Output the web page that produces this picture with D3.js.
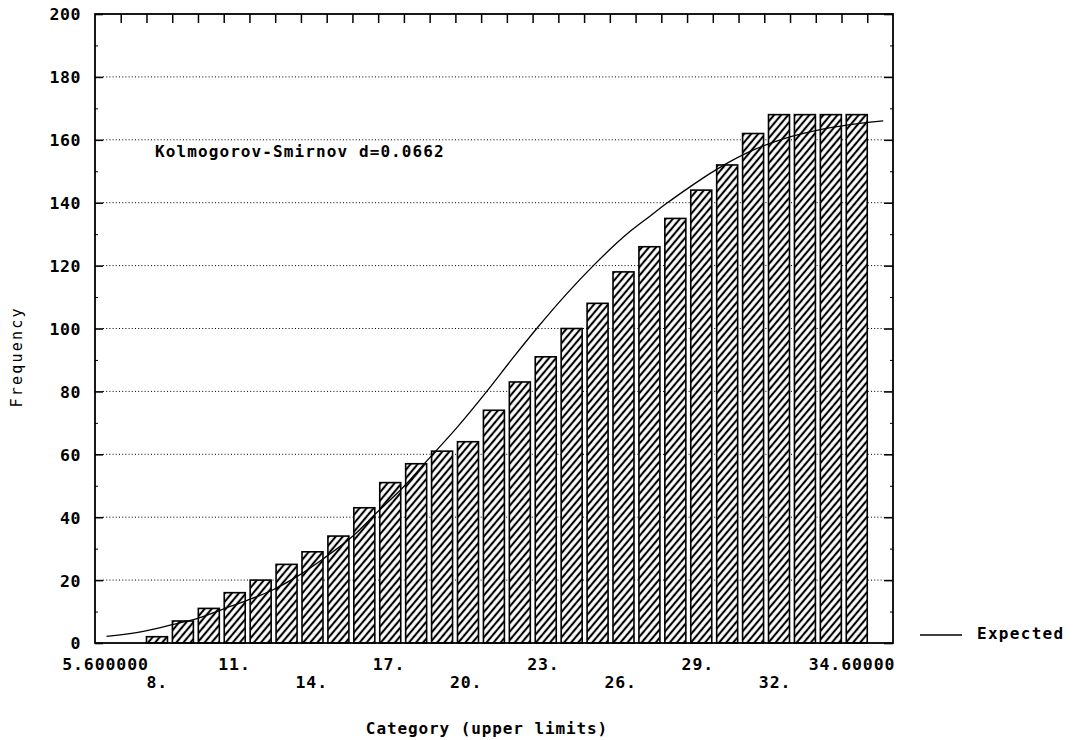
<!DOCTYPE html>
<html><head><meta charset="utf-8">
<script src="https://cdn.jsdelivr.net/npm/d3@7"></script>
<style>
html,body{margin:0;padding:0;background:#fff;}
svg text{font-family:"DejaVu Sans Mono","Liberation Mono",monospace;fill:#000;}
</style></head><body>
<svg id="chart" width="1074" height="740"></svg>
<script>
// ---- data ----
const upperLimits = [8.6,9.6,10.6,11.6,12.6,13.6,14.6,15.6,16.6,17.6,18.6,19.6,20.6,21.6,22.6,23.6,24.6,25.6,26.6,27.6,28.6,29.6,30.6,31.6,32.6,33.6,34.6,35.6];
const frequencies = [2,7,11,16,20,25,29,34,43,51,57,61,64,74,83,91,100,108,118,126,135,144,152,162,168,168,168,168];
const expectedX = [6.05,7.48,8.64,9.68,10.58,11.49,12.46,13.44,14.47,15.63,16.54,17.58,18.49,19.65,20.82,21.85,22.76,23.93,24.96,26.39,27.17,27.81,28.46,29.75,31.05,32.34,33.64,34.93,36.22];
const expectedY = [2.1,3.7,5.9,8.1,10.8,13.5,16.7,21.1,26.8,34.1,41.4,49.6,57.9,68.4,80.0,90.8,100.0,111.1,120.0,130.9,135.8,139.8,143.6,150.6,156.3,160.3,163.0,164.8,166.0];
const classLimits = [6.6,7.6,8.6,9.6,10.6,11.6,12.6,13.6,14.6,15.6,16.6,17.6,18.6,19.6,20.6,21.6,22.6,23.6,24.6,25.6,26.6,27.6,28.6,29.6,30.6,31.6,32.6,33.6,34.6,35.6];
const xTickValues = [5.6,8,11,14,17,20,23,26,29,32,34.6];
const xTickLabels = ["5.600000","8.","11.","14.","17.","20.","23.","26.","29.","32.","34.60000"];
const yTickValues = [0,20,40,60,80,100,120,140,160,180,200];
const yMinorTicks = [10,30,50,70,90,110,130,150,170,190];
const ksText = "Kolmogorov-Smirnov d=0.0662";
const xTitle = "Category (upper limits)";
const yTitle = "Frequency";
const legendLabel = "Expected";

// ---- layout ----
const L = 95, R = 893, T = 14, B = 643;
const svg = d3.select("#chart");
const x = d3.scaleLinear().domain([5.6, 36.6]).range([L, R]);
const y = d3.scaleLinear().domain([0, 200]).range([B, T]);
const band = d3.scaleBand().domain(upperLimits).range([x(7.6), x(35.6)]).paddingInner(0.19).paddingOuter(0);

const defs = svg.append("defs");
const pat = defs.append("pattern").attr("id","hatch").attr("patternUnits","userSpaceOnUse")
  .attr("width",5.4).attr("height",5.4).attr("patternTransform","rotate(40)");
pat.append("rect").attr("width",5.4).attr("height",5.4).attr("fill","#fff");
pat.append("line").attr("x1",2.7).attr("x2",2.7).attr("y1",-1).attr("y2",6.4).attr("stroke","#000").attr("stroke-width",2.1);

// gridlines
svg.append("g").selectAll("line").data(yTickValues.filter(d=>d>0 && d<200)).join("line")
  .attr("x1", L+8).attr("x2", R-9).attr("y1", d=>y(d)).attr("y2", d=>y(d))
  .attr("stroke","#000").attr("stroke-width",1).attr("stroke-dasharray","1,2.2");

// bars
svg.append("g").selectAll("rect").data(upperLimits).join("rect")
  .attr("x", d=>band(d)).attr("width", band.bandwidth())
  .attr("y", (d,i)=>y(frequencies[i])).attr("height", (d,i)=>y(0)-y(frequencies[i]))
  .attr("fill","url(#hatch)").attr("stroke","#000").attr("stroke-width",1.6);

// expected curve
const pts = expectedX.map((v,i)=>[v, expectedY[i]]);
svg.append("path").datum(pts)
  .attr("d", d3.line().x(d=>x(d[0])).y(d=>y(d[1])).curve(d3.curveMonotoneX))
  .attr("fill","none").attr("stroke","#000").attr("stroke-width",1.3);

// frame
svg.append("rect").attr("x",L).attr("y",T).attr("width",R-L).attr("height",B-T)
  .attr("fill","none").attr("stroke","#000").attr("stroke-width",1.8);

// left axis
const yAxisL = svg.append("g").attr("transform",`translate(${L},0)`)
  .call(d3.axisLeft(y).tickValues(yTickValues).tickSize(-8).tickPadding(14).tickFormat(d3.format("d")));
yAxisL.select(".domain").remove();
yAxisL.selectAll("line").attr("stroke-width",1.6);
yAxisL.selectAll("text").attr("font-size",16.5).attr("font-weight","bold").attr("letter-spacing","0.6px")
  .attr("font-family","DejaVu Sans Mono").attr("dy","0.36em");
svg.append("g").attr("transform",`translate(${L},0)`)
  .call(d3.axisLeft(y).tickValues(yMinorTicks).tickSize(-3).tickFormat(""))
  .select(".domain").remove();

// right axis
const yAxisR = svg.append("g").attr("transform",`translate(${R},0)`)
  .call(d3.axisRight(y).tickValues(yTickValues).tickSize(-9).tickFormat(""));
yAxisR.select(".domain").remove();
yAxisR.selectAll("line").attr("stroke-width",1.6);
svg.append("g").attr("transform",`translate(${R},0)`)
  .call(d3.axisRight(y).tickValues(yMinorTicks).tickSize(-3).tickFormat(""))
  .select(".domain").remove();

// top ticks
const xTop = svg.append("g").attr("transform",`translate(0,${T})`)
  .call(d3.axisTop(x).tickValues(classLimits).tickSize(-9).tickFormat(""));
xTop.select(".domain").remove();
xTop.selectAll("line").attr("stroke-width",1.5);

// bottom labels
const xBot = svg.append("g").attr("transform",`translate(0,${B})`)
  .call(d3.axisBottom(x).tickValues(xTickValues).tickSize(0).tickFormat((d,i)=>xTickLabels[i]));
xBot.select(".domain").remove();
const lastI = xTickValues.length - 1;
xBot.selectAll("text")
  .attr("font-size",16.5).attr("font-weight","bold").attr("letter-spacing","0.9px").attr("font-family","DejaVu Sans Mono")
  .attr("dy",null)
  .attr("y",(d,i)=> i%2===0 ? 27 : 45)
  .attr("x",(d,i)=> (i===0||i===lastI) ? 10 : 0);

// KS text
svg.append("text").attr("x",155).attr("y",157).attr("font-size",16).attr("font-weight","bold")
  .attr("letter-spacing","1.1px").text(ksText);

// axis titles
svg.append("text").attr("x",487).attr("y",734).attr("text-anchor","middle").attr("font-size",16)
  .attr("font-weight","bold").attr("letter-spacing","0.9px").text(xTitle);
svg.append("text").attr("transform","translate(22,358) rotate(-90)").attr("text-anchor","middle")
  .attr("font-size",15).attr("textLength",99).attr("lengthAdjust","spacing").text(yTitle);

// legend
svg.append("line").attr("x1",920).attr("x2",962).attr("y1",635).attr("y2",635).attr("stroke","#000").attr("stroke-width",1.3);
svg.append("text").attr("x",977).attr("y",639).attr("font-size",16).attr("font-weight","bold")
  .attr("letter-spacing","1.3px").text(legendLabel);
</script>
</body></html>
